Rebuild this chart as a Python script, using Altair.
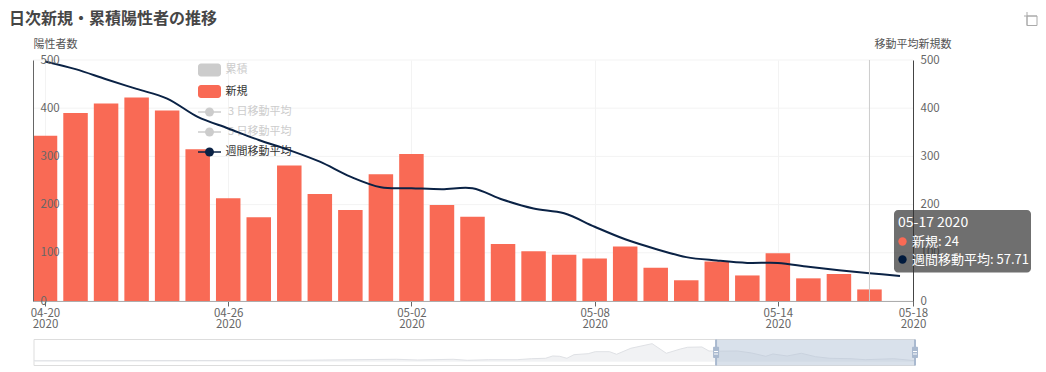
import altair as alt
import pandas as pd

FONT = "Noto Sans CJK JP"
PW, PH = 880, 241
X0, Y0 = 33, 60  # page position of the plot area


def px(x):
    return x - X0


def py(y):
    return y - Y0


# ---- data ----
bar_dates = pd.date_range("2020-04-20", "2020-05-17").strftime("%Y-%m-%dT00:00:00").tolist()
new_cases = [343, 390, 410, 422, 395, 315, 213, 174, 281, 222, 189, 263, 305, 199,
             175, 118, 103, 96, 88, 113, 69, 43, 82, 53, 99, 47, 56, 24]
line_dates = pd.date_range("2020-04-20", "2020-05-18").strftime("%Y-%m-%dT00:00:00").tolist()
week_avg = [497, 481, 460, 440, 420, 382, 358, 334, 313, 289, 258, 236, 234, 232,
            234, 210, 192, 182, 154, 128, 108, 91, 84, 79, 79, 71, 64, 57.71, 52]

slider_dates = ["01-15", "01-24", "02-07", "02-21", "03-06", "03-09", "03-14", "03-16", "03-19",
                "03-23", "03-25", "03-27", "03-28", "03-29", "03-30", "03-31", "04-02", "04-03",
                "04-05", "04-06", "04-08", "04-11", "04-13", "04-15", "04-16", "04-18", "04-19",
                "04-20", "04-23", "04-25", "04-27", "04-28", "04-30", "05-02", "05-04", "05-06",
                "05-09", "05-11", "05-15", "05-18"]
slider_vals = [50, 55, 60, 70, 118, 85, 118, 70, 99, 99, 146, 165, 273, 258, 165, 334, 381, 475,
               475, 352, 635, 851, 400, 602, 682, 696, 508, 497, 508, 414, 258, 367, 273, 400,
               240, 165, 146, 99, 146, 52]

legend_names = ["累積", "新規", "3 日移動平均", "5 日移動平均", "週間移動平均"]
tooltip_lines = ["05-17 2020", "新規: 24", "週間移動平均: 57.71"]
y_ticks = [0, 100, 200, 300, 400, 500]

BAR = "#f96a55"
NAVY = "#0a2245"
AXIS = "#666666"
TEXT = "#666666"


def dt(m, d, h=0, mi=0):
    return alt.DateTime(year=2020, month=m, date=d, hours=h, minutes=mi)


main_x_domain = [dt(4, 19, 14, 34), dt(5, 18, 10, 13)]
tick_vals = [dt(4, 20), dt(4, 26), dt(5, 2), dt(5, 8), dt(5, 14), dt(5, 18, 10, 13)]
x_main = alt.Scale(domain=main_x_domain, padding=0)
y_main = alt.Scale(domain=[0, 500])

bars_df = pd.DataFrame({"date": bar_dates, "new": new_cases})
line_df = pd.DataFrame({"date": line_dates, "avg": week_avg})
slider_df = pd.DataFrame({"date": ["2020-" + d + "T00:00:00" for d in slider_dates], "v": slider_vals})
one = pd.DataFrame({"date": ["2020-05-17T00:00:00"]})
ticks_df = pd.DataFrame({"tick": y_ticks})

# horizontal grid lines kept in their own layer so that they stay behind the marks
grid = alt.Chart(ticks_df).mark_rule(color="#f3f3f3", strokeWidth=1).encode(
    y=alt.Y("tick:Q", scale=y_main, axis=None))

bars = alt.Chart(bars_df).mark_bar(size=24.5, color=BAR, clip=True).encode(
    x=alt.X("date:T", scale=x_main, axis=alt.Axis(
        values=tick_vals, title=None, grid=True, gridColor="#f3f3f3", domainColor=AXIS,
        tickColor=AXIS, tickSize=5, labelColor=TEXT, labelFont=FONT, labelFontSize=11.5,
        labelLineHeight=11, labelPadding=1, labelOverlap=False, labelFlush=False,
        labelExpr="[timeFormat(datum.value, '%m-%d'), timeFormat(datum.value, '%Y')]")),
    y=alt.Y("new:Q", scale=y_main, axis=alt.Axis(
        values=y_ticks, title="陽性者数", titleAngle=0, titleAlign="left", titleBaseline="middle",
        titleX=0, titleY=-16, titleFont=FONT, titleFontSize=11, titleFontWeight="normal",
        titleColor="#555555", grid=False, domainColor=AXIS, ticks=False,
        labelAlign="left", labelPadding=-7, labelColor=TEXT, labelFont=FONT, labelFontSize=11.5,
        zindex=1)),
)

line = alt.Chart(line_df).mark_line(color=NAVY, strokeWidth=2, interpolate="catmull-rom").encode(
    x=alt.X("date:T", scale=x_main, axis=None),
    y=alt.Y("avg:Q", scale=y_main, axis=alt.Axis(
        orient="right", values=y_ticks, title="移動平均新規数", titleAngle=0, titleAlign="left",
        titleBaseline="middle", titleX=-39, titleY=-16, titleFont=FONT, titleFontSize=11,
        titleFontWeight="normal", titleColor="#555555", grid=False, domainColor="#444444",
        ticks=False, labelPadding=7, labelColor=TEXT, labelFont=FONT, labelFontSize=11.5)),
)

crosshair = alt.Chart(one).mark_rule(color="#cccccc", strokeWidth=1).encode(
    x=alt.X("date:T", scale=x_main, axis=None))

# ---- legend drawn inside the plot ----
legend_y = [70, 91.5, 112, 132, 152]
legend_active = [False, True, False, False, True]
legend_layers = []
for i, name in enumerate(legend_names):
    d = pd.DataFrame({"label": [name]})
    col = "#333333" if legend_active[i] else "#cccccc"
    sym = [BAR if name == "新規" else "#cccccc", NAVY if name == "週間移動平均" else "#cccccc"]
    y = py(legend_y[i])
    if i < 2:
        legend_layers.append(alt.Chart(d).mark_rect(color=sym[0], cornerRadius=3).encode(
            x=alt.value(px(198)), x2=alt.value(px(221)), y=alt.value(y - 6.5), y2=alt.value(y + 6.5)))
    else:
        legend_layers.append(alt.Chart(d).mark_rule(color=sym[1], strokeWidth=1.5).encode(
            x=alt.value(px(198)), x2=alt.value(px(221)), y=alt.value(y)))
        legend_layers.append(alt.Chart(d).mark_point(color=sym[1], filled=True, opacity=1, size=80).encode(
            x=alt.value(px(209.5)), y=alt.value(y)))
    tx = 228 if name[0] in "35" else 225.5
    legend_layers.append(alt.Chart(d).mark_text(
        align="left", baseline="middle", font=FONT, fontSize=11, color=col).encode(
        x=alt.value(px(tx)), y=alt.value(y), text="label:N"))

# ---- data-zoom strip below the plot ----
x_slider = alt.Scale(domain=[dt(1, 15), dt(5, 18)], range=[px(34), px(915)], padding=0)
y_slider = alt.Scale(domain=[0, 1000], range=[py(361.8), py(340.5)])
sel_df = pd.DataFrame({"start": ["2020-04-20T00:00:00"], "end": ["2020-05-18T00:00:00"]})
handles_df = pd.DataFrame({"date": ["2020-04-20T00:00:00", "2020-05-18T00:00:00"]})
TOP, BOTTOM = py(339.5), py(365.5)

frame = alt.Chart(one).mark_rect(fill="#ffffff", stroke="#dddddd", strokeWidth=1).encode(
    x=alt.value(px(34)), x2=alt.value(px(915)), y=alt.value(TOP), y2=alt.value(BOTTOM))
area = alt.Chart(slider_df).mark_area(color="#ebedf0", line={"color": "#dfe1e5", "strokeWidth": 1}).encode(
    x=alt.X("date:T", scale=x_slider, axis=None),
    y=alt.Y("v:Q", scale=y_slider, axis=None),
    y2=alt.value(BOTTOM))
selection = alt.Chart(sel_df).mark_rect(fill="#b4c3d7", opacity=0.5).encode(
    x=alt.X("start:T", scale=x_slider, axis=None), x2="end:T",
    y=alt.value(TOP), y2=alt.value(BOTTOM))
handle_line = alt.Chart(handles_df).mark_bar(size=2, color="#a9b9cf").encode(
    x=alt.X("date:T", scale=x_slider, axis=None), y=alt.value(TOP), y2=alt.value(BOTTOM))
handle_box = alt.Chart(handles_df).mark_bar(size=6, color="#a9b9cf", cornerRadius=1).encode(
    x=alt.X("date:T", scale=x_slider, axis=None), y=alt.value(py(346.7)), y2=alt.value(py(358)))
grips = [
    alt.Chart(handles_df).mark_bar(size=4, color="#ffffff").encode(
        x=alt.X("date:T", scale=x_slider, axis=None), y=alt.value(py(g)), y2=alt.value(py(g + 1)))
    for g in (351, 353.5)
]

# ---- tooltip box ----
tip_box = alt.Chart(one).mark_rect(fill="#323232", opacity=0.7, cornerRadius=4).encode(
    x=alt.value(px(894)), x2=alt.value(px(1031)), y=alt.value(py(210)), y2=alt.value(py(272.5)))
tip_layers = [tip_box]
tip_y = [223, 241.5, 259.5]
tip_x = [898, 912, 912]
tip_size = [14, 13, 13]
for i, text in enumerate(tooltip_lines):
    d = pd.DataFrame({"label": [text]})
    tip_layers.append(alt.Chart(d).mark_text(
        align="left", baseline="middle", font=FONT, fontSize=tip_size[i], color="#ffffff").encode(
        x=alt.value(px(tip_x[i])), y=alt.value(py(tip_y[i])), text="label:N"))
    if i:
        tip_layers.append(alt.Chart(d).mark_point(
            color=BAR if i == 1 else "#001a3d", filled=True, opacity=1, size=70).encode(
            x=alt.value(px(902.5)), y=alt.value(py(tip_y[i]))))

# ---- toolbox icon (kept inside the 1030 px the page gives the chart) ----
ICON = "#aaaaaa"
icon = [
    alt.Chart(one).mark_rect(fill="transparent", stroke=ICON, strokeWidth=1).encode(
        x=alt.value(px(1027)), x2=alt.value(px(1037)), y=alt.value(py(16)), y2=alt.value(py(25.5))),
    alt.Chart(one).mark_rule(color=ICON, strokeWidth=1).encode(
        x=alt.value(px(1027)), y=alt.value(py(12)), y2=alt.value(py(25.5))),
    alt.Chart(one).mark_rule(color=ICON, strokeWidth=1).encode(
        x=alt.value(px(1024)), x2=alt.value(px(1037)), y=alt.value(py(16))),
]

chart = alt.layer(
    grid, bars, *legend_layers, line, crosshair,
    frame, area, selection, handle_line, handle_box, *grips,
    *tip_layers, *icon,
).resolve_scale(x="independent", y="independent").properties(
    width=PW, height=PH,
    padding={"left": 1, "top": 2, "right": 0, "bottom": 0},
    title=alt.TitleParams(
        text="日次新規・累積陽性者の推移", anchor="start", frame="group", dx=-24,
        fontSize=16, fontWeight="bold", font=FONT, color="#464646", offset=-15),
).configure_view(stroke=None)

chart.save("out.html", embed_options={"renderer": "svg", "actions": False})
